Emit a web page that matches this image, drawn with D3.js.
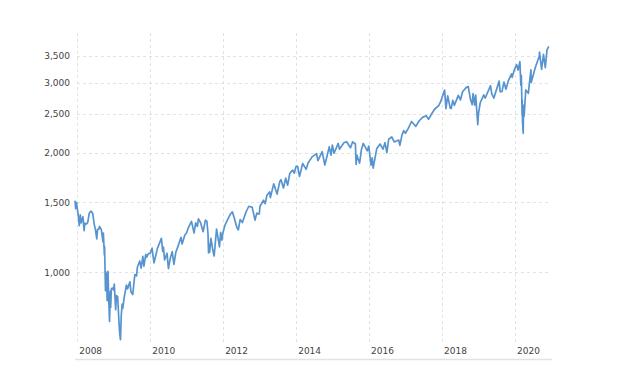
<!DOCTYPE html>
<html>
<head>
<meta charset="utf-8">
<script src="https://cdn.jsdelivr.net/npm/d3@7"></script>
<style>
  html, body { margin: 0; padding: 0; background: #fff; }
  svg { display: block; }
  text { font-family: "DejaVu Sans", Verdana, sans-serif; }
</style>
</head>
<body>
<svg id="chart" width="624" height="388"></svg>
<script>
const dates = [
"2007-12-10","2007-12-17","2007-12-26","2008-01-02","2008-01-09","2008-01-22","2008-02-01","2008-02-08","2008-02-15","2008-02-27",
"2008-03-10","2008-03-18","2008-03-31","2008-04-15","2008-05-01","2008-05-19","2008-06-05","2008-06-20","2008-07-01","2008-07-15",
"2008-07-23","2008-08-05","2008-08-11","2008-08-29","2008-09-15","2008-09-19","2008-09-29","2008-10-01","2008-10-10","2008-10-13",
"2008-10-20","2008-10-27","2008-11-04","2008-11-12","2008-11-20","2008-11-28","2008-12-01","2008-12-08","2008-12-16","2008-12-31",
"2009-01-06","2009-01-20","2009-01-28","2009-02-09","2009-02-23","2009-03-02","2009-03-09","2009-03-17","2009-03-26","2009-04-01",
"2009-04-17","2009-05-08","2009-05-19","2009-06-12","2009-06-22","2009-07-10","2009-07-31","2009-08-17","2009-08-25","2009-09-18",
"2009-10-02","2009-10-19","2009-10-30","2009-11-17","2009-11-27","2009-12-14","2009-12-31","2010-01-19","2010-02-08","2010-02-26",
"2010-03-15","2010-04-23","2010-05-06","2010-05-13","2010-05-25","2010-06-18","2010-07-02","2010-07-20","2010-08-09","2010-08-26",
"2010-09-15","2010-10-05","2010-11-05","2010-11-16","2010-12-13","2010-12-31","2011-01-18","2011-02-18","2011-03-16","2011-04-01",
"2011-04-18","2011-04-29","2011-05-20","2011-06-15","2011-07-07","2011-07-22","2011-08-02","2011-08-08","2011-08-12","2011-08-19",
"2011-08-31","2011-09-22","2011-10-03","2011-10-27","2011-11-25","2011-12-07","2011-12-19","2011-12-30","2012-01-20","2012-02-17",
"2012-03-16","2012-04-02","2012-04-23","2012-05-18","2012-06-01","2012-06-19","2012-07-12","2012-08-17","2012-09-14","2012-10-18",
"2012-11-15","2012-12-03","2012-12-28","2013-01-04","2013-02-08","2013-02-25","2013-03-14","2013-04-11","2013-04-18","2013-05-21",
"2013-06-24","2013-07-22","2013-08-02","2013-08-27","2013-09-18","2013-10-08","2013-10-29","2013-11-27","2013-12-13","2013-12-31",
"2014-01-15","2014-02-03","2014-03-07","2014-04-11","2014-04-30","2014-06-09","2014-07-24","2014-08-07","2014-09-18","2014-10-15",
"2014-11-28","2014-12-16","2014-12-29","2015-01-15","2015-02-26","2015-03-11","2015-04-24","2015-05-21","2015-06-29","2015-07-20",
"2015-08-17","2015-08-24","2015-08-31","2015-09-28","2015-10-16","2015-11-03","2015-12-14","2015-12-29","2016-01-20","2016-02-01",
"2016-02-11","2016-03-18","2016-04-20","2016-05-19","2016-06-08","2016-06-27","2016-07-15","2016-08-15","2016-09-09","2016-10-24",
"2016-11-04","2016-11-25","2016-12-13","2016-12-30","2017-01-26","2017-03-01","2017-04-13","2017-05-15","2017-06-19","2017-07-26",
"2017-08-18","2017-09-20","2017-10-20","2017-11-28","2017-12-18","2018-01-26","2018-02-08","2018-02-26","2018-03-23","2018-04-02",
"2018-04-18","2018-05-03","2018-06-12","2018-07-03","2018-07-25","2018-08-29","2018-09-20","2018-10-11","2018-10-29","2018-11-07",
"2018-11-23","2018-12-03","2018-12-24","2018-12-31","2019-01-18","2019-02-22","2019-03-08","2019-04-30","2019-05-13","2019-06-03",
"2019-07-26","2019-08-05","2019-08-23","2019-09-12","2019-10-02","2019-10-28","2019-11-27","2019-12-03","2019-12-27","2020-01-17",
"2020-01-31","2020-02-19","2020-02-28","2020-03-04","2020-03-12","2020-03-13","2020-03-16","2020-03-23","2020-03-26","2020-04-01",
"2020-04-17","2020-05-13","2020-06-08","2020-06-11","2020-07-22","2020-08-31","2020-09-02","2020-09-23","2020-10-12","2020-10-30",
"2020-11-16","2020-12-04"
];
const closes = [
1515,1445,1497,1447,1409,1310,1395,1331,1349,1380,
1273,1330,1322,1334,1409,1426,1404,1317,1284,1214,
1282,1284,1305,1282,1192,1255,1106,1161,899,1003,
985,848,1005,852,752,896,816,909,913,903,
934,805,874,869,743,700,677,778,832,811,
869,929,908,946,893,879,987,979,1028,1068,
1025,1097,1036,1110,1091,1114,1115,1150,1056,1104,
1150,1217,1128,1157,1074,1117,1022,1083,1127,1047,
1125,1160,1225,1178,1240,1258,1295,1343,1256,1332,
1305,1363,1333,1265,1353,1345,1254,1119,1178,1123,
1218,1129,1099,1285,1158,1261,1205,1258,1315,1361,
1404,1419,1366,1295,1278,1357,1334,1418,1466,1457,
1353,1409,1402,1466,1518,1488,1563,1593,1541,1669,
1573,1695,1710,1630,1725,1656,1772,1808,1775,1848,
1848,1742,1878,1815,1884,1951,1988,1910,2011,1862,
2067,1972,2090,1993,2110,2040,2117,2131,2057,2128,
2102,1867,1972,1881,2033,2109,2021,2078,1859,1940,
1829,2049,2102,2040,2119,2000,2161,2190,2127,2151,
2085,2213,2271,2238,2298,2395,2329,2402,2453,2477,
2425,2508,2575,2627,2690,2873,2581,2779,2588,2582,
2708,2630,2786,2713,2846,2914,2931,2728,2641,2814,
2633,2790,2351,2507,2671,2793,2743,2946,2812,2744,
3026,2845,2847,3010,2888,3040,3154,3093,3241,3330,
3226,3386,2954,3130,2481,2711,2386,2237,2630,2470,
2875,2820,3232,3002,3276,3500,3580,3237,3534,3270,
3627,3699
];
const yTicks = [1000, 1500, 2000, 2500, 3000, 3500];
const xTickYears = [2008, 2010, 2012, 2014, 2016, 2018, 2020];

const parse = d3.timeParse("%Y-%m-%d");
const data = dates.map((d, i) => ({ date: parse(d), value: closes[i] }));

const svg = d3.select("#chart");

const x = d3.scaleTime()
  .domain([parse("2007-12-10"), parse("2021-01-05")])
  .range([75, 552]);

const y = d3.scaleLog()
  .domain([1000, 3500])
  .range([272.3, 56]);

const gridColor = "#e2e2e2";

// horizontal grid
svg.append("g").selectAll("line").data(yTicks).join("line")
  .attr("x1", 77).attr("x2", 549)
  .attr("y1", d => Math.round(y(d)) + 0.5).attr("y2", d => Math.round(y(d)) + 0.5)
  .attr("stroke", gridColor).attr("stroke-width", 1)
  .attr("stroke-dasharray", "3,3");

// vertical grid
const xTickDates = xTickYears.map(yr => new Date(yr, 0, 1));
svg.append("g").selectAll("line").data(xTickDates).join("line")
  .attr("x1", d => Math.round(x(d)) + 0.5).attr("x2", d => Math.round(x(d)) + 0.5)
  .attr("y1", 33).attr("y2", 342)
  .attr("stroke", gridColor).attr("stroke-width", 1)
  .attr("stroke-dasharray", "3,3");

// y labels
const fmt = d3.format(",");
svg.append("g").selectAll("text").data(yTicks).join("text")
  .attr("x", 70).attr("y", d => y(d) + 3.3)
  .attr("text-anchor", "end")
  .attr("font-size", 9)
  .attr("fill", "#444")
  .text(d => fmt(d));

// x labels
svg.append("g").selectAll("text").data(xTickDates).join("text")
  .attr("x", d => x(d) + 2).attr("y", 353.5)
  .attr("text-anchor", "start")
  .attr("font-size", 9)
  .attr("fill", "#444")
  .text(d => d3.timeFormat("%Y")(d));

// x axis baseline
svg.append("line")
  .attr("x1", 75).attr("x2", 552)
  .attr("y1", 359.5).attr("y2", 359.5)
  .attr("stroke", "#e2e2e2").attr("stroke-width", 1.5);

// data line
const line = d3.line()
  .x(d => x(d.date))
  .y(d => y(d.value));

svg.append("path")
  .datum(data)
  .attr("d", line)
  .attr("fill", "none")
  .attr("stroke", "#5794cf")
  .attr("stroke-width", 1.7)
  .attr("stroke-linejoin", "round");
</script>
</body>
</html>
